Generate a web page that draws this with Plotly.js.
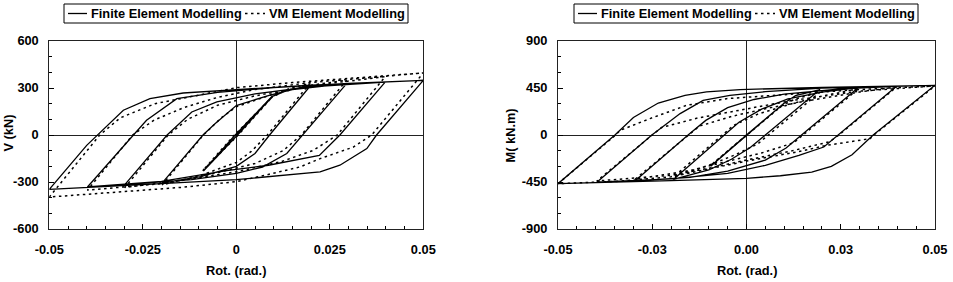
<!DOCTYPE html>
<html>
<head>
<meta charset="utf-8">
<script src="https://cdn.plot.ly/plotly-3.0.1.min.js"></script>
<style>html,body{margin:0;padding:0;background:#fff;}#chart{width:953px;height:282px;}</style>
</head>
<body>
<div id="chart"></div>
<script>
// ---------- DATA ----------
const seriesNames = ['Finite Element Modelling', 'VM Element Modelling'];

// Left chart: shear V (kN) vs rotation (rad.)
const rotFE_V = [0,0.0095,0.0012,-0.0088,-0.0006,0.0095,0.0145,0.0197,
  0.0089,0.005,0.0,-0.0095,-0.0198,
  -0.0089,-0.0057,0.0,0.009,0.015,0.0295,
  0.0178,0.0135,0.007,0.0,-0.012,-0.0298,
  -0.0185,-0.0119,-0.0052,0.005,0.02,0.0398,
  0.0277,0.0222,0.0086,-0.0026,-0.02,-0.0398,
  -0.0275,-0.024,-0.0159,-0.005,0.01,0.03,0.05,
  0.0375,0.0349,0.0277,0.0224,0.009,0,-0.02,-0.04,-0.05,
  -0.04,-0.0302,-0.0231,-0.0142,0,0.02,0.05];
const vFE = [0,245,22,-230,-8,245,292,311,
  0,-118,-200,-265,-306,
  0,72,188,255,290,328,
  0,-118,-205,-245,-285,-317,
  0,147,211,262,308,338,
  0,-130,-193,-228,-296,-332,
  0,94,232,272,303,330,349,
  0,-87,-193,-236,-268,-285,-310,-332,-347,
  -66,158,232,268,290,318,349];

const rotVM_V = [0,0.0095,0.0005,-0.009,-0.0005,0.0095,0.014,0.0197,
  0.0083,0.004,0,-0.01,-0.0198,
  -0.0088,-0.004,0,0.01,0.02,0.0295,
  0.0174,0.0125,0.005,-0.005,-0.015,-0.0298,
  -0.0182,-0.013,-0.005,0.005,0.02,0.0398,
  0.027,0.0206,0.012,0,-0.02,-0.0398,
  -0.0277,-0.022,-0.014,-0.005,0.005,0.02,0.05,
  0.0362,0.0313,0.0224,0.017,0.008,0,-0.015,-0.03,-0.04,-0.05,
  -0.0365,-0.031,-0.0217,-0.01,0,0.015,0.03,0.04,0.05];
const vVM = [0,240,0,-228,0,240,295,330,
  0,-105,-175,-262,-318,
  0,110,180,262,318,350,
  0,-100,-182,-240,-290,-335,
  0,100,190,250,315,372,
  0,-98,-170,-235,-310,-352,
  0,95,175,240,290,335,396,
  0,-77,-151,-204,-255,-298,-335,-362,-380,-396,
  0,110,200,255,302,335,362,380,396];

// Right chart: moment M (kN.m) vs rotation (rad.)
const rotFE_M = [0,0.0098,0.0003,-0.0095,-0.0002,0.0098,0.013,0.0195,
  0.005,0.001,-0.004,-0.01,-0.0194,
  -0.0058,-0.002,0.004,0.011,0.02,0.0297,
  0.0146,0.0105,0.005,-0.005,-0.015,-0.0296,
  -0.0155,-0.0108,-0.005,0.002,0.01,0.025,0.0398,
  0.0243,0.0205,0.0139,0.005,-0.005,-0.02,-0.0397,
  -0.0251,-0.0176,-0.0115,-0.0044,0.005,0.02,0.05,
  0.0336,0.028,0.0225,0.0173,0.009,0,-0.02,-0.04,-0.05,
  -0.0349,-0.03,-0.0234,-0.0163,-0.0106,-0.0017,0.02,0.05];
const mFE = [0,300,10,-300,-10,300,378,435,
  0,-120,-232,-335,-425,
  0,122,248,345,410,454,
  0,-125,-240,-345,-405,-440,
  0,140,262,340,392,442,466,
  0,-115,-194,-290,-368,-420,-452,
  0,205,332,380,415,448,476,
  0,-190,-300,-355,-390,-415,-437,-455,-466,
  0,167,306,380,412,435,455,476];

const rotVM_M = [0,0.0098,0,-0.0095,0,0.0098,0.013,0.0195,
  0.0058,0.003,-0.003,-0.01,-0.0194,
  -0.0065,-0.0035,0.003,0.012,0.02,0.0297,
  0.015,0.0125,0.004,-0.005,-0.015,-0.0296,
  -0.0155,-0.0125,-0.004,0.005,0.015,0.03,0.0398,
  0.0245,0.022,0.012,0,-0.01,-0.02,-0.0397,
  -0.025,-0.0225,-0.013,0,0.012,0.03,0.05,
  0.0338,0.0328,0.0213,0.0133,0,-0.01,-0.02,-0.035,-0.05,
  -0.0347,-0.0335,-0.0256,-0.0159,-0.0053,0.0133,0.0292,0.05];
const mVM = [0,292,0,-290,0,292,345,410,
  0,-85,-190,-290,-402,
  0,90,200,300,372,442,
  0,-75,-172,-252,-340,-425,
  0,85,178,252,320,412,460,
  0,-65,-152,-240,-318,-385,-440,
  0,72,162,250,330,420,470,
  0,-35,-99,-163,-250,-322,-400,-445,-466,
  0,45,157,284,348,396,434,470];

// Axis ticks
const xTickVals = [-0.05, -0.025, 0, 0.025, 0.05];
const xTickTextV = ['-0.05', '-0.025', '0', '0.025', '0.05'];
const xTickTextM = ['-0.05', '-0.03', '0.00', '0.03', '0.05'];
const yTickValsV = [-600, -300, 0, 300, 600];
const yTickValsM = [-900, -450, 0, 450, 900];
const xTitle = 'Rot. (rad.)';
const yTitleV = 'V (kN)';
const yTitleM = 'M( kN.m)';

// ---------- STYLE ----------
const W = 953, H = 282;
const FONT = {family: 'Liberation Sans, Arial, sans-serif', size: 12.8, color: '#000', weight: 'bold'};
const solid = {color: '#000', width: 1.3};
const dotted = {color: '#000', width: 1.5, dash: '2.5px,3.5px'};
const px = v => v / W;
const py = v => 1 - v / H;

const traces = [
  {x: rotFE_V, y: vFE, mode: 'lines', line: solid, name: seriesNames[0], xaxis: 'x', yaxis: 'y', showlegend: false, hoverinfo: 'skip'},
  {x: rotVM_V, y: vVM, mode: 'lines', line: dotted, name: seriesNames[1], xaxis: 'x', yaxis: 'y', showlegend: false, hoverinfo: 'skip'},
  {x: rotFE_M, y: mFE, mode: 'lines', line: solid, name: seriesNames[0], xaxis: 'x2', yaxis: 'y2', showlegend: false, hoverinfo: 'skip'},
  {x: rotVM_M, y: mVM, mode: 'lines', line: dotted, name: seriesNames[1], xaxis: 'x2', yaxis: 'y2', showlegend: false, hoverinfo: 'skip'}
];

function xAxis(domain, ticktext, anchor) {
  return {
    domain: domain, anchor: anchor, range: [-0.05, 0.05],
    tickmode: 'array', tickvals: xTickVals, ticktext: ticktext,
    ticks: 'inside', ticklen: 5, tickwidth: 1, tickcolor: '#000',
    minor: {tickmode: 'linear', tick0: 0, dtick: 0.005, ticks: 'inside', ticklen: 3, tickcolor: '#000', showgrid: false},
    showline: true, mirror: true, linecolor: '#222', linewidth: 1,
    zeroline: true, zerolinecolor: '#222', zerolinewidth: 1,
    showgrid: false, tickfont: FONT, ticklabelstandoff: 9, fixedrange: true
  };
}
function yAxis(range, tickvals, minorStep, anchor) {
  return {
    domain: [53 / H, 241 / H], anchor: anchor, range: range,
    tickmode: 'array', tickvals: tickvals, ticktext: tickvals.map(String),
    ticks: 'inside', ticklen: 5, tickwidth: 1, tickcolor: '#000',
    minor: {tickmode: 'linear', tick0: 0, dtick: minorStep, ticks: 'inside', ticklen: 3, tickcolor: '#000', showgrid: false},
    showline: true, mirror: true, linecolor: '#222', linewidth: 1,
    zeroline: true, zerolinecolor: '#222', zerolinewidth: 1,
    showgrid: false, tickfont: FONT, ticklabelstandoff: 7, fixedrange: true
  };
}

// legend drawn as boxes, line samples and text
const shapes = [], annotations = [];
function legendBox(L) {
  const yc = 13.5;
  shapes.push({type: 'rect', xref: 'paper', yref: 'paper', x0: px(L), x1: px(L + 344), y0: py(23), y1: py(4), line: {color: '#000', width: 1}, fillcolor: 'rgba(0,0,0,0)'});
  shapes.push({type: 'line', xref: 'paper', yref: 'paper', x0: px(L + 4), x1: px(L + 23), y0: py(yc), y1: py(yc), line: solid});
  shapes.push({type: 'line', xref: 'paper', yref: 'paper', x0: px(L + 181), x1: px(L + 201), y0: py(yc), y1: py(yc), line: dotted});
  annotations.push({xref: 'paper', yref: 'paper', x: px(L + 24.5), y: py(yc), xanchor: 'left', yanchor: 'middle', text: seriesNames[0], showarrow: false, font: FONT});
  annotations.push({xref: 'paper', yref: 'paper', x: px(L + 203), y: py(yc), xanchor: 'left', yanchor: 'middle', text: seriesNames[1], showarrow: false, font: FONT});
}
legendBox(64);
legendBox(574);

annotations.push({xref: 'paper', yref: 'paper', x: px(236.3), y: py(270), xanchor: 'center', yanchor: 'middle', text: xTitle, showarrow: false, font: FONT});
annotations.push({xref: 'paper', yref: 'paper', x: px(746.5), y: py(270), xanchor: 'center', yanchor: 'middle', text: xTitle, showarrow: false, font: FONT});
annotations.push({xref: 'paper', yref: 'paper', x: px(7.5), y: py(133), xanchor: 'center', yanchor: 'middle', text: yTitleV, textangle: -90, showarrow: false, font: FONT});
annotations.push({xref: 'paper', yref: 'paper', x: px(510.4), y: py(135), xanchor: 'center', yanchor: 'middle', text: yTitleM, textangle: -90, showarrow: false, font: FONT});

const layout = {
  width: W, height: H,
  margin: {l: 0, r: 0, t: 0, b: 0, pad: 0},
  paper_bgcolor: '#fff', plot_bgcolor: '#fff',
  font: FONT, showlegend: false,
  xaxis: xAxis([49.3 / W, 423.3 / W], xTickTextV, 'y'),
  yaxis: yAxis([-600, 600], yTickValsV, 100, 'x'),
  xaxis2: xAxis([558 / W, 935 / W], xTickTextM, 'y2'),
  yaxis2: yAxis([-900, 900], yTickValsM, 150, 'x2'),
  shapes: shapes, annotations: annotations
};

Plotly.newPlot('chart', traces, layout, {staticPlot: true, displayModeBar: false});
</script>
</body>
</html>
